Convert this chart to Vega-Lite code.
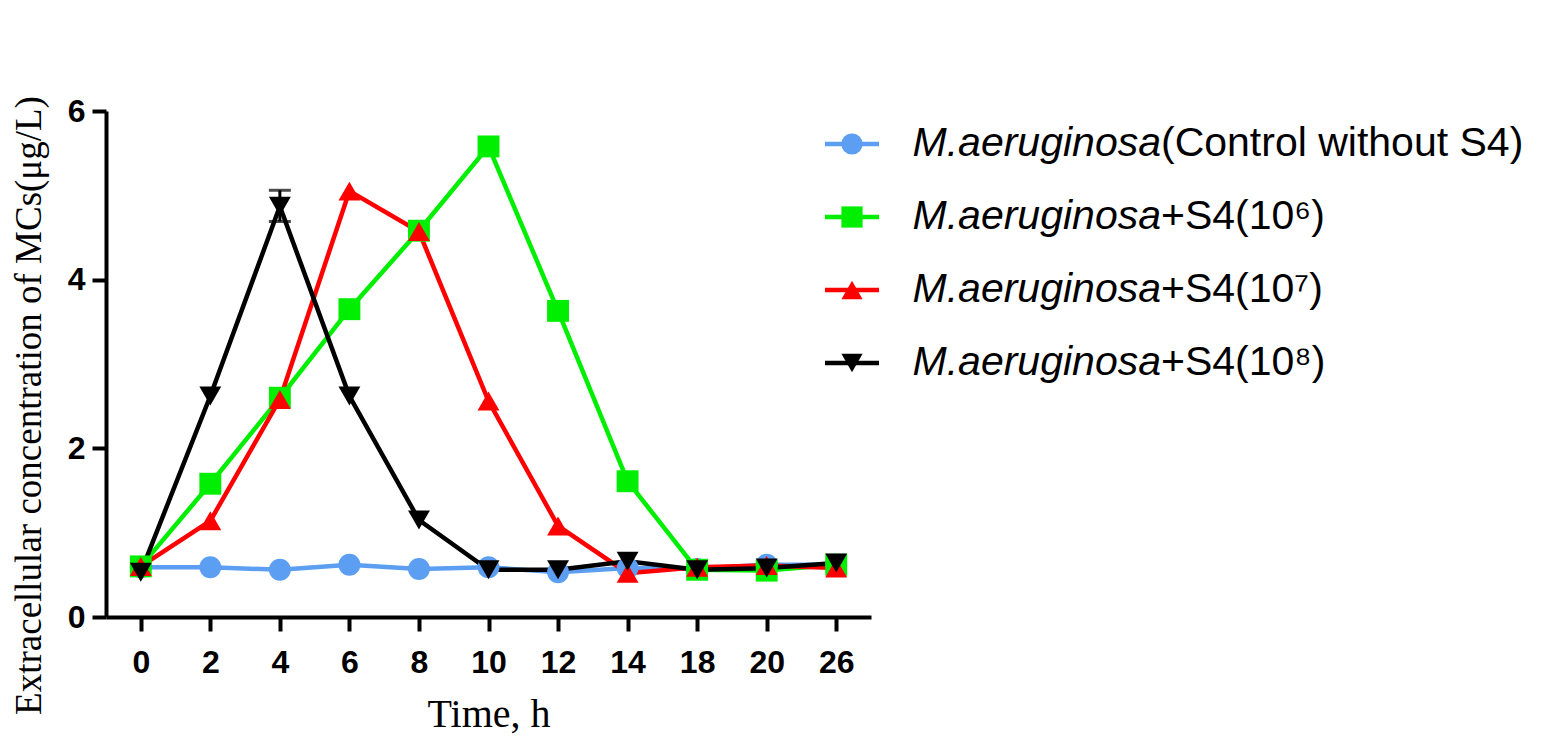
{
  "$schema": "https://vega.github.io/schema/vega-lite/v6.json",
  "description": "Extracellular MCs concentration over time, M. aeruginosa with and without strain S4.",
  "padding": {"left": 10, "top": 95, "right": 0, "bottom": 0},
  "background": "white",
  "width": 765,
  "height": 506,
  "datasets": {
    "curves": [
      {"t": 0, "series": "ctrl", "y": 0.59},
      {"t": 2, "series": "ctrl", "y": 0.59},
      {"t": 4, "series": "ctrl", "y": 0.56},
      {"t": 6, "series": "ctrl", "y": 0.62},
      {"t": 8, "series": "ctrl", "y": 0.57},
      {"t": 10, "series": "ctrl", "y": 0.59},
      {"t": 12, "series": "ctrl", "y": 0.53},
      {"t": 14, "series": "ctrl", "y": 0.58},
      {"t": 18, "series": "ctrl", "y": 0.57},
      {"t": 20, "series": "ctrl", "y": 0.62},
      {"t": 26, "series": "ctrl", "y": 0.62},
      {"t": 0, "series": "s6", "y": 0.6},
      {"t": 2, "series": "s6", "y": 1.58},
      {"t": 4, "series": "s6", "y": 2.6},
      {"t": 6, "series": "s6", "y": 3.65},
      {"t": 8, "series": "s6", "y": 4.58},
      {"t": 10, "series": "s6", "y": 5.58},
      {"t": 12, "series": "s6", "y": 3.63},
      {"t": 14, "series": "s6", "y": 1.61},
      {"t": 18, "series": "s6", "y": 0.56},
      {"t": 20, "series": "s6", "y": 0.55},
      {"t": 26, "series": "s6", "y": 0.62},
      {"t": 0, "series": "s7", "y": 0.6},
      {"t": 2, "series": "s7", "y": 1.14},
      {"t": 4, "series": "s7", "y": 2.58},
      {"t": 6, "series": "s7", "y": 5.05},
      {"t": 8, "series": "s7", "y": 4.57},
      {"t": 10, "series": "s7", "y": 2.56},
      {"t": 12, "series": "s7", "y": 1.08},
      {"t": 14, "series": "s7", "y": 0.52},
      {"t": 18, "series": "s7", "y": 0.59},
      {"t": 20, "series": "s7", "y": 0.61},
      {"t": 26, "series": "s7", "y": 0.58},
      {"t": 0, "series": "s8", "y": 0.53},
      {"t": 2, "series": "s8", "y": 2.62},
      {"t": 4, "series": "s8", "y": 4.87},
      {"t": 6, "series": "s8", "y": 2.62},
      {"t": 8, "series": "s8", "y": 1.15},
      {"t": 10, "series": "s8", "y": 0.56},
      {"t": 12, "series": "s8", "y": 0.56},
      {"t": 14, "series": "s8", "y": 0.66},
      {"t": 18, "series": "s8", "y": 0.56},
      {"t": 20, "series": "s8", "y": 0.58},
      {"t": 26, "series": "s8", "y": 0.64}
    ],
    "errors": [
      {"t": 4, "series": "s8", "lo": 4.69, "hi": 5.06}
    ],
    "legend": [
      {"series": "ctrl", "italic": "M.aeruginosa", "rest": "(Control without S4)"},
      {"series": "s6", "italic": "M.aeruginosa", "rest": "+S4(10⁶)"},
      {"series": "s7", "italic": "M.aeruginosa", "rest": "+S4(10⁷)"},
      {"series": "s8", "italic": "M.aeruginosa", "rest": "+S4(10⁸)"}
    ]
  },
  "layer": [
    {
      "encoding": {
        "x": {
          "field": "t",
          "type": "ordinal",
          "scale": {"type": "point", "padding": 0.5, "domain": [0, 2, 4, 6, 8, 10, 12, 14, 18, 20, 26]},
          "axis": {
            "title": "Time, h",
            "labelAngle": 0,
            "labelPadding": 16,
            "titleFontSize": 40,
            "titlePadding": 16
          }
        }
      },
      "layer": [
        {
          "data": {"name": "curves"},
          "mark": {"type": "line", "strokeWidth": 4.5},
          "encoding": {
            "y": {
              "field": "y",
              "type": "quantitative",
              "scale": {"domain": [0, 6], "nice": false},
              "axis": {
                "values": [0, 2, 4, 6],
                "format": "d",
                "title": "Extracellular concentration of MCs(μg/L)",
                "labelPadding": 7,
                "titleFontSize": 37,
                "titleX": -77,
                "titleY": 294,
                "titleAlign": "center",
                "titleBaseline": "middle"
              }
            },
            "color": {
              "field": "series",
              "type": "nominal",
              "scale": {"domain": ["ctrl", "s6", "s7", "s8"], "range": ["#5b9ef2", "#00ee00", "#ff0000", "#000000"]},
              "legend": null
            }
          }
        },
        {
          "data": {"name": "errors"},
          "mark": {"type": "rule", "strokeWidth": 3, "color": "black"},
          "encoding": {
            "y": {"field": "lo", "type": "quantitative"},
            "y2": {"field": "hi"}
          }
        },
        {
          "data": {"name": "errors"},
          "mark": {"type": "tick", "size": 22, "thickness": 3, "color": "black"},
          "encoding": {"y": {"field": "hi", "type": "quantitative"}}
        },
        {
          "data": {"name": "errors"},
          "mark": {"type": "tick", "size": 22, "thickness": 3, "color": "black"},
          "encoding": {"y": {"field": "lo", "type": "quantitative"}}
        },
        {
          "data": {"name": "curves"},
          "mark": {"type": "point", "filled": true, "opacity": 1, "size": 480},
          "encoding": {
            "y": {"field": "y", "type": "quantitative"},
            "color": {"field": "series", "type": "nominal", "legend": null},
            "shape": {
              "field": "series",
              "type": "nominal",
              "scale": {"domain": ["ctrl", "s6", "s7", "s8"], "range": ["circle", "square", "triangle-up", "triangle-down"]},
              "legend": null
            }
          }
        }
      ]
    },
    {
      "data": {"name": "legend"},
      "encoding": {
        "y": {
          "field": "series",
          "type": "ordinal",
          "scale": {"type": "point", "padding": 0, "domain": ["ctrl", "s6", "s7", "s8"], "range": [33, 252]},
          "axis": null
        }
      },
      "layer": [
        {
          "mark": {"type": "rule", "strokeWidth": 4.5},
          "encoding": {
            "x": {"datum": 719, "type": "quantitative", "scale": {"domain": [0, 765], "nice": false, "zero": false}, "axis": null},
            "x2": {"datum": 773},
            "color": {"field": "series", "type": "nominal", "legend": null}
          }
        },
        {
          "mark": {"type": "point", "filled": true, "opacity": 1, "size": 450},
          "encoding": {
            "x": {"datum": 746, "type": "quantitative"},
            "color": {"field": "series", "type": "nominal", "legend": null},
            "shape": {"field": "series", "type": "nominal", "legend": null}
          }
        },
        {
          "mark": {"type": "text", "align": "right", "baseline": "middle", "font": "Liberation Sans", "fontStyle": "italic", "fontSize": 41, "color": "black"},
          "encoding": {
            "x": {"datum": 1055, "type": "quantitative"},
            "text": {"field": "italic"}
          }
        },
        {
          "mark": {"type": "text", "align": "left", "baseline": "middle", "font": "Liberation Sans", "fontSize": 41, "color": "black"},
          "encoding": {
            "x": {"datum": 1055, "type": "quantitative"},
            "text": {"field": "rest"}
          }
        }
      ]
    }
  ],
  "resolve": {"scale": {"x": "independent", "y": "independent"}},
  "config": {
    "view": {"stroke": null},
    "axis": {
      "grid": false,
      "domainColor": "black",
      "domainWidth": 4,
      "tickColor": "black",
      "tickWidth": 4,
      "tickSize": 14,
      "labelFont": "Liberation Sans",
      "labelFontWeight": "bold",
      "labelFontSize": 32,
      "labelColor": "black",
      "titleFont": "Liberation Serif",
      "titleFontWeight": "normal",
      "titleColor": "black"
    }
  }
}
